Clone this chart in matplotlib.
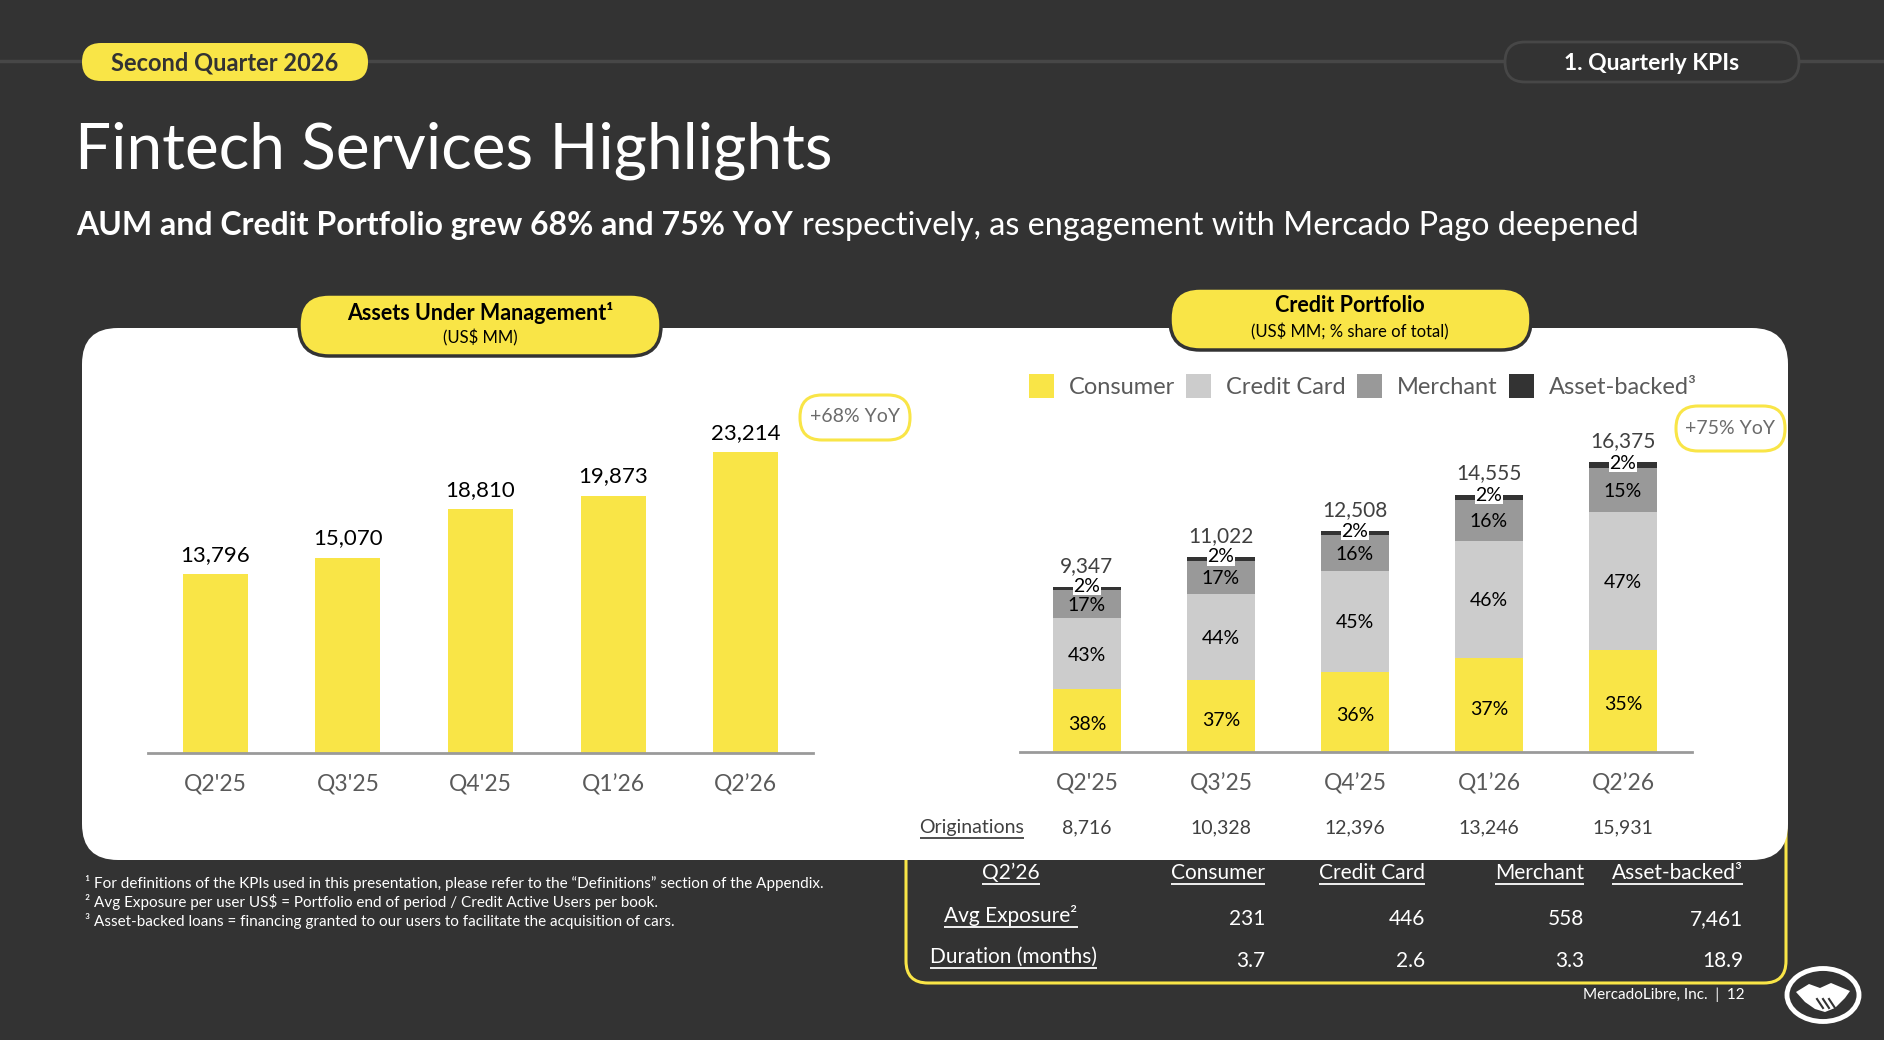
import matplotlib.pyplot as plt
from matplotlib.patches import FancyBboxPatch, Ellipse, Polygon, Rectangle
from matplotlib import transforms

plt.rcParams['font.family'] = ['Lato', 'DejaVu Sans']

# data
aum_quarters = ["Q2'25", "Q3'25", "Q4'25", "Q1’26", "Q2’26"]
credit_quarters = ["Q2'25", "Q3’25", "Q4’25", "Q1’26", "Q2’26"]
aum = [13796, 15070, 18810, 19873, 23214]
credit_total = [9347, 11022, 12508, 14555, 16375]
pct_consumer = [38, 37, 36, 37, 35]
pct_card = [43, 44, 45, 46, 47]
pct_merchant = [17, 17, 16, 16, 15]
pct_asset = [2, 2, 2, 2, 2]
originations = [8716, 10328, 12396, 13246, 15931]
segment_names = ['Consumer', 'Credit Card', 'Merchant', 'Asset-backed³']
avg_exposure = ['231', '446', '558', '7,461']
duration = ['3.7', '2.6', '3.3', '18.9']
footnotes = [
    '¹ For definitions of the KPIs used in this presentation, please refer to the “Definitions” section of the Appendix.',
    '² Avg Exposure per user US$ = Portfolio end of period / Credit Active Users per book.',
    '³ Asset-backed loans = financing granted to our users to facilitate the acquisition of cars.',
]

W, H = 1884, 1040
YEL = '#F9E547'
DARK = '#333333'
GREY_TXT = '#5a5a5a'
seg_colors = [YEL, '#CCCCCC', '#999999', '#333333']

fig = plt.figure(figsize=(W / 100, H / 100), dpi=100, facecolor=DARK)
bg = fig.add_axes([0, 0, 1, 1])
bg.set_xlim(0, W)
bg.set_ylim(H, 0)
bg.axis('off')
rend = fig.canvas.get_renderer()


def px_axes(x0, y0, x1, y1):
    return fig.add_axes([x0 / W, 1 - y1 / H, (x1 - x0) / W, (y1 - y0) / H])


def rbox(x0, y0, x1, y1, r, **kw):
    p = FancyBboxPatch((x0, y0), x1 - x0, y1 - y0,
                       boxstyle=f'round,pad=0,rounding_size={r}', **kw)
    bg.add_patch(p)
    return p


def underline(t, color='white', lw=1.3, pad=1):
    bb = t.get_window_extent(rend)
    y = H - bb.y0 + pad
    bg.plot([bb.x0, bb.x1], [y, y], color=color, lw=lw, solid_capstyle='butt')


# header line + pills
bg.plot([0, W], [61, 61], color='#474747', lw=2.5, zorder=1)
rbox(82, 43, 368, 81, 19, facecolor=YEL, edgecolor='none', zorder=2)
bg.text(225, 63, 'Second Quarter 2026', fontsize=17, fontweight='bold', color=DARK,
        ha='center', va='center', zorder=3)
rbox(1505, 42, 1799, 82, 20, facecolor=DARK, edgecolor='#474747', lw=2, zorder=2)
bg.text(1652, 63, '1. Quarterly KPIs', fontsize=16.5, fontweight='bold', color='white',
        ha='center', va='center', zorder=3)

# title / subtitle
bg.text(75, 168, 'Fintech Services Highlights', fontsize=46, color='white', va='baseline')
t1 = bg.text(76, 235, 'AUM and Credit Portfolio grew 68% and 75% YoY', fontsize=23,
             fontweight='bold', color='white', va='baseline')
bb = t1.get_window_extent(rend)
bg.text(bb.x1 + 9, 235, 'respectively, as engagement with Mercado Pago deepened',
        fontsize=23.3, color='white', va='baseline')

# table box (sits partly behind the white panel)
rbox(906, 800, 1786, 983, 22, facecolor='none', edgecolor=YEL, lw=2.2, zorder=1)
# white panel
rbox(82, 328, 1788, 860, 36, facecolor='white', edgecolor='none', zorder=2)

# chart title pills
rbox(299, 294, 661, 356, 30, facecolor=YEL, edgecolor=DARK, lw=2.5, zorder=3)
bg.text(480, 313, 'Assets Under Management¹', fontsize=15.5, fontweight='bold',
        color='black', ha='center', va='center', zorder=4)
bg.text(480, 338, '(US$ MM)', fontsize=12, color='black', ha='center', va='center', zorder=4)
rbox(1170, 288, 1531, 350, 30, facecolor=YEL, edgecolor=DARK, lw=2.5, zorder=3)
bg.text(1350, 306, 'Credit Portfolio', fontsize=15.5, fontweight='bold',
        color='black', ha='center', va='center', zorder=4)
bg.text(1350, 332, '(US$ MM; % share of total)', fontsize=12, color='black',
        ha='center', va='center', zorder=4)

# YoY pills
rbox(800, 395, 910, 440, 22, facecolor='white', edgecolor=YEL, lw=2.2, zorder=3)
bg.text(855, 417, '+68% YoY', fontsize=14, color='#6b6b6b', ha='center', va='center', zorder=4)
rbox(1676, 406, 1785, 451, 22, facecolor='white', edgecolor=YEL, lw=2.2, zorder=3)
bg.text(1730, 428, '+75% YoY', fontsize=14, color='#6b6b6b', ha='center', va='center', zorder=4)

# ---- AUM chart
ax1 = px_axes(148, 400, 813, 753)
ax1.patch.set_alpha(0)
x = list(range(len(aum_quarters)))
bars = ax1.bar(x, aum, width=0.49, color=YEL, zorder=2)
ax1.set_xlim(-0.506, 4.506)
ax1.set_ylim(0, 353 / 0.01295)
for b, v in zip(bars, aum):
    ax1.annotate(f'{v:,}', (b.get_x() + b.get_width() / 2, v), xytext=(0, 7),
                 textcoords='offset points', ha='center', va='bottom',
                 fontsize=16, color='black')
ax1.set_xticks(x, aum_quarters)
ax1.tick_params(length=0, pad=15, labelsize=16.5, labelcolor=GREY_TXT)
ax1.set_yticks([])
for s in ['top', 'right', 'left']:
    ax1.spines[s].set_visible(False)
ax1.spines['bottom'].set_color('#9a9a9a')
ax1.spines['bottom'].set_linewidth(2)

# ---- Credit portfolio chart
ax2 = px_axes(1020, 400, 1692, 752)
ax2.patch.set_alpha(0)
ax2.set_xlim(-0.5, 4.515)
ax2.set_ylim(0, 352 / 0.01768)
pcts = [pct_consumer, pct_card, pct_merchant, pct_asset]
bottoms = [0] * len(credit_quarters)
for k, (p, c) in enumerate(zip(pcts, seg_colors)):
    heights = []
    for i in x:
        tot = pct_consumer[i] + pct_card[i] + pct_merchant[i] + pct_asset[i]
        heights.append(credit_total[i] * p[i] / tot)
    ax2.bar(x, heights, bottom=bottoms, width=0.507, color=c, zorder=2)
    for i in x:
        yc = bottoms[i] + heights[i] / 2
        if k == 3:
            ax2.annotate(f'{p[i]}%', (i, yc), xytext=(0, 1.5), textcoords='offset points',
                         ha='center', va='center', fontsize=14, color='black', zorder=4,
                         bbox=dict(facecolor='white', edgecolor='none', pad=0.1))
        else:
            off = -3 if k == 0 else -1
            ax2.annotate(f'{p[i]}%', (i, yc), xytext=(0, off), textcoords='offset points',
                         ha='center', va='center', fontsize=14, color='black', zorder=4)
    bottoms = [b + h for b, h in zip(bottoms, heights)]
for i, v in enumerate(credit_total):
    ax2.annotate(f'{v:,}', (i, v), xytext=(0, 8), textcoords='offset points',
                 ha='center', va='bottom', fontsize=15, color='#404040', zorder=3)
ax2.set_xticks(x, credit_quarters)
ax2.tick_params(length=0, pad=15, labelsize=16.5, labelcolor=GREY_TXT)
ax2.set_yticks([])
for s in ['top', 'right', 'left']:
    ax2.spines[s].set_visible(False)
ax2.spines['bottom'].set_color('#9a9a9a')
ax2.spines['bottom'].set_linewidth(2)

# originations row
tr = transforms.blended_transform_factory(ax2.transData, bg.transData)
for i, v in enumerate(originations):
    ax2.text(i, 828, f'{v:,}', transform=tr, ha='center', va='center', fontsize=14,
             color='#404040', clip_on=False)
t = bg.text(972, 828, 'Originations', fontsize=14, color='#404040', ha='center',
            va='center', zorder=4)
underline(t, color='#404040')

# legend
lx = 1029
for name, c in zip(segment_names, seg_colors):
    bg.add_patch(Rectangle((lx, 374), 25, 24, facecolor=c, edgecolor='none', zorder=4))
    lt = bg.text(lx + 40, 387, name, fontsize=17, color=GREY_TXT, va='center', zorder=4)
    lx = lt.get_window_extent(rend).x1 + 11

# table under the chart
col_right = [1265, 1425, 1584, 1743]
t = bg.text(1011, 873, 'Q2’26', fontsize=15, color='white', ha='center', va='center')
underline(t)
for cx, name in zip(col_right, segment_names):
    t = bg.text(cx, 873, name, fontsize=15, color='white', ha='right', va='center')
    underline(t)
t = bg.text(1011, 915, 'Avg Exposure²', fontsize=15, color='white', ha='center', va='center')
underline(t)
t = bg.text(1013, 957, 'Duration (months)', fontsize=15, color='white', ha='center', va='center')
underline(t)
for cx, v in zip(col_right, avg_exposure):
    bg.text(cx, 919, v, fontsize=15, color='white', ha='right', va='center')
for cx, v in zip(col_right, duration):
    bg.text(cx, 961, v, fontsize=15, color='white', ha='right', va='center')

# footnotes
for j, line in enumerate(footnotes):
    bg.text(85, 883 + j * 19, line, fontsize=11, color='white', va='center')

# footer + logo
bg.text(1745, 995, 'MercadoLibre, Inc.  |  12', fontsize=11, color='white',
        ha='right', va='center')
bg.add_patch(Ellipse((1823, 995), 72, 53, facecolor=DARK, edgecolor='white', lw=3.5))
cx, cy = 1823, 995
hand = [(-27, -3), (-14, -11), (-3, -7), (8, -12), (27, -4), (22, 3),
        (12, 13), (2, 17), (-8, 14), (-18, 7)]
bg.add_patch(Polygon([(cx + a, cy + b) for a, b in hand], closed=True,
                     facecolor='white', edgecolor='none'))
for dx in (-6, 0, 6):
    bg.plot([cx + dx, cx + dx + 6], [cy + 4, cy + 13], color=DARK, lw=1.5)

fig.savefig('out.png', dpi=100, facecolor=DARK)
